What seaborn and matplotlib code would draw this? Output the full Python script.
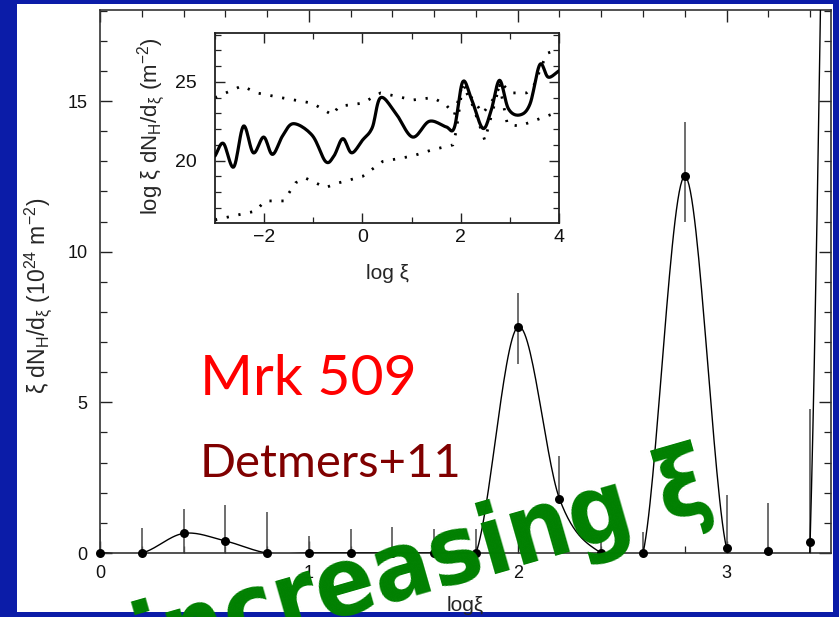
import numpy as np
import pandas as pd
import matplotlib
matplotlib.use("Agg")
import matplotlib.pyplot as plt
from matplotlib.patches import Rectangle
from matplotlib.ticker import MultipleLocator
import seaborn as sns

# ---- main panel: column density distribution per log xi bin ----
log_xi = [0.0, 0.2, 0.4, 0.6, 0.8, 1.0, 1.2, 1.4, 1.6, 1.8,
          2.0, 2.2, 2.4, 2.6, 2.8, 3.0, 3.2, 3.4, 3.6]
nh_dist = [0.0, 0.0, 0.65, 0.4, 0.0, 0.0, 0.0, 0.0, 0.0, 0.0,
           7.5, 1.8, 0.0, 0.0, 12.5, 0.15, 0.05, 0.37, 100.0]
err_up = [0.8, 0.83, 0.82, 1.2, 1.37, 0.57, 0.8, 0.87, 0.8, 0.8,
          1.13, 1.43, 0.6, 0.7, 1.8, 1.78, 1.6, 4.4, 10.0]
err_dn = [0.0, 0.0, 0.65, 0.4, 0.0, 0.0, 0.0, 0.0, 0.0, 0.0,
          1.23, 0.0, 0.0, 0.0, 1.52, 0.15, 0.05, 0.37, 10.0]

# ---- inset: log column density distribution with its bounds ----
inset_x = [-3.0, -2.83, -2.62, -2.42, -2.22, -2.01, -1.83, -1.62, -1.40, -1.02,
           -0.75, -0.58, -0.40, -0.22, 0.0, 0.2, 0.37, 0.68, 1.02, 1.36,
           1.70, 1.87, 2.04, 2.22, 2.45, 2.62, 2.79, 2.97, 3.20, 3.41,
           3.61, 3.78, 4.0]
inset_y = [20.3, 21.1, 19.6, 22.2, 20.5, 21.5, 20.4, 21.6, 22.35, 21.6,
           19.95, 20.3, 21.4, 20.5, 21.3, 22.1, 24.0, 23.0, 21.5, 22.5,
           22.15, 22.1, 25.0, 23.9, 22.05, 23.2, 25.1, 23.3, 22.9, 23.6,
           26.1, 25.3, 25.7]
upper_x = [-3.0, -2.45, -2.15, -1.57, -1.02, -0.61, -0.48, 0.0, 0.37, 0.75,
           1.02, 1.43, 1.70, 1.87, 2.04, 2.22, 2.45, 2.66, 2.83, 3.03,
           3.34, 3.48, 3.75, 4.0]
upper_y = [24.0, 24.75, 24.3, 23.95, 23.65, 22.9, 23.45, 23.65, 24.3, 24.05,
           23.85, 24.0, 23.55, 22.9, 24.9, 24.0, 23.0, 23.9, 24.9, 24.3,
           24.3, 24.7, 26.8, 27.1]
lower_x = [-3.0, -2.18, -1.98, -1.60, -1.36, -1.16, -0.75, -0.48, 0.0, 0.41,
           1.02, 1.43, 1.84, 1.91, 2.04, 2.22, 2.49, 2.62, 2.79, 2.95,
           3.20, 3.9, 4.0]
lower_y = [16.25, 16.8, 17.45, 17.45, 18.6, 18.9, 18.3, 18.6, 19.0, 19.95,
           20.3, 20.7, 21.0, 21.9, 24.8, 23.7, 21.3, 22.8, 24.8, 22.3,
           22.2, 23.0, 23.0]

xticks_main = [0, 1, 2, 3]
yticks_main = [0, 5, 10, 15]
xticks_inset = [-2, 0, 2, 4]
yticks_inset = [20, 25]

BLUE = "#0b1ca8"


def catmull_rom(x, y, per_seg=30):
    """Smooth parametric curve through the (x, y) nodes (Catmull-Rom)."""
    def seg_eval(v):
        v = np.asarray(v, float)
        vp = np.concatenate([[2 * v[0] - v[1]], v, [2 * v[-1] - v[-2]]])
        t = np.linspace(0, 1, per_seg, endpoint=False)
        h00 = 2 * t**3 - 3 * t**2 + 1
        h10 = t**3 - 2 * t**2 + t
        h01 = -2 * t**3 + 3 * t**2
        h11 = t**3 - t**2
        out = []
        for i in range(len(v) - 1):
            p0, p1, p2, p3 = vp[i], vp[i + 1], vp[i + 2], vp[i + 3]
            out.append(h00 * p1 + h10 * (p2 - p0) / 2
                       + h01 * p2 + h11 * (p3 - p1) / 2)
        out.append([v[-1]])
        return np.concatenate(out)
    return seg_eval(x), seg_eval(y)


sns.set_style("ticks")
plt.rcParams["font.family"] = ["Liberation Sans", "DejaVu Sans"]
plt.rcParams["mathtext.default"] = "regular"

W, H = 839, 617
fig = plt.figure(figsize=(W / 100, H / 100), dpi=100, facecolor=BLUE)
fig.add_artist(Rectangle((17 / W, 1 - 612 / H), (833 - 17) / W, (612 - 4) / H,
                         transform=fig.transFigure, facecolor="white",
                         edgecolor="none", zorder=-5))

# ---------------- main axes ----------------
ax = fig.add_axes([100 / W, 1 - 553 / H, 731 / W, 543 / H])
ax.set_facecolor("white")

sx, sy = catmull_rom(log_xi, nh_dist)
curve = pd.DataFrame({"log_xi": sx, "nh": sy})
sns.lineplot(data=curve, x="log_xi", y="nh", ax=ax, color="black",
             linewidth=1.0, sort=False, estimator=None, zorder=3)

ax.errorbar(log_xi, nh_dist, yerr=[err_dn, err_up], fmt="none",
            ecolor="#555555", elinewidth=1.2, capsize=0, zorder=2)

pts = pd.DataFrame({"log_xi": log_xi, "nh": nh_dist})
pts = pts[pts["nh"] <= 18]
sns.scatterplot(data=pts, x="log_xi", y="nh", ax=ax, color="black", s=42,
                edgecolor="black", linewidth=0, zorder=4, clip_on=False)

ax.set_xlim(0, 3.5)
ax.set_ylim(0, 18.02)
ax.set_xticks(xticks_main)
ax.set_yticks(yticks_main)
ax.xaxis.set_minor_locator(MultipleLocator(0.2))
ax.yaxis.set_minor_locator(MultipleLocator(1))
ax.tick_params(which="both", direction="in", top=True, right=True,
               colors="#222222", labelcolor="#111111", labelsize=13)
ax.tick_params(which="major", length=8.5, width=1.0, pad=9)
ax.tick_params(which="minor", length=5, width=0.9)
for s in ax.spines.values():
    s.set_color("#333333")
    s.set_linewidth(1.2)
ax.set_xlabel("logξ", fontsize=15)
ax.set_ylabel("ξ dN$_{H}$/d$_{ξ}$ (10$^{24}$ m$^{-2}$)", fontsize=16.5)
ax.xaxis.set_label_coords(0.5, -0.08)
ax.yaxis.set_label_coords(-0.062, 0.473)

# ---------------- inset axes ----------------
ins = fig.add_axes([215 / W, 1 - 223 / H, 344 / W, 190 / H])
ins.set_facecolor("white")
ins.set_zorder(5)
ix, iy = catmull_rom(inset_x, inset_y, per_seg=12)
solid = pd.DataFrame({"log_xi": ix, "lognh": iy})
sns.lineplot(data=solid, x="log_xi", y="lognh", ax=ins, color="black",
             linewidth=2.3, sort=False, estimator=None, zorder=3)
ins.plot(upper_x, upper_y, color="black", linewidth=2.0,
         linestyle=(0, (0.8, 3.5)), zorder=2)
ins.plot(lower_x, lower_y, color="black", linewidth=2.0,
         linestyle=(0, (0.8, 3.5)), zorder=2)
ins.set_xlim(-3, 4)
ins.set_ylim(16.05, 28.1)
ins.set_xticks(xticks_inset)
ins.set_yticks(yticks_inset)
ins.xaxis.set_minor_locator(MultipleLocator(1))
ins.yaxis.set_minor_locator(MultipleLocator(1))
ins.tick_params(which="both", direction="in", top=True, right=True,
                colors="#222222", labelcolor="#111111", labelsize=14)
ins.tick_params(axis="x", which="major", pad=4)
ins.tick_params(axis="y", which="major", pad=13)
ins.tick_params(which="major", length=7.5, width=1.0)
ins.tick_params(which="minor", length=4, width=0.9)
for s in ins.spines.values():
    s.set_color("#222222")
    s.set_linewidth(1.3)
ins.set_xlabel("log ξ", fontsize=15)
ins.set_ylabel("log ξ dN$_{H}$/d$_{ξ}$ (m$^{-2}$)", fontsize=16)
ins.xaxis.set_label_coords(0.5, -0.215)
ins.yaxis.set_label_coords(-0.137, 0.51)

# ---------------- annotations ----------------
fig.text(200 / W, 1 - 395 / H, "Mrk 509", color="#ff0000", fontsize=41,
         family=["Lato", "DejaVu Sans"], ha="left", va="baseline", zorder=10)
fig.text(200 / W, 1 - 477 / H, "Detmers+11", color="#800000", fontsize=34,
         family=["Lato", "DejaVu Sans"], ha="left", va="baseline", zorder=10)
fig.text(144 / W, 1 - 674 / H, "increasing ξ", color="#008000", fontsize=70,
         fontweight="bold", fontstretch="condensed", family=["DejaVu Sans"],
         rotation=16, rotation_mode="anchor", ha="left", va="baseline",
         zorder=10)

fig.savefig("out.png", dpi=100, facecolor=BLUE)
